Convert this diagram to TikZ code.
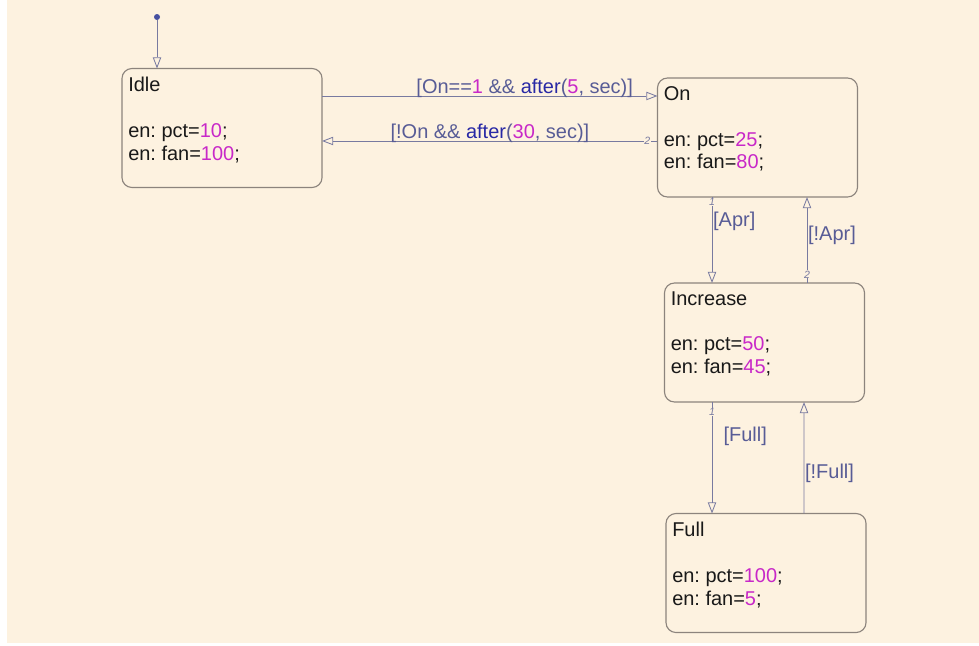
\documentclass[tikz,border=0pt]{standalone}
\usepackage{fontspec}
\setmainfont{Liberation Sans}
\usepackage{xcolor}
\usetikzlibrary{arrows.meta, positioning}
\frenchspacing
\definecolor{chartbg}{RGB}{253,242,224}
\definecolor{stateline}{RGB}{140,132,125}
\definecolor{transline}{RGB}{120,122,160}
\definecolor{guardtxt}{RGB}{88,92,150}
\definecolor{kwtxt}{RGB}{40,40,165}
\definecolor{numtxt}{RGB}{200,40,200}
\definecolor{dotfill}{RGB}{70,80,160}
\newcommand{\stnum}[1]{\textcolor{numtxt}{#1}}
\newcommand{\stkw}[1]{\textcolor{kwtxt}{#1}}
\tikzset{
  statebox/.style={
    rectangle, rounded corners=0.25cm, draw=stateline, line width=0.8pt,
    fill=chartbg, minimum width=5cm, minimum height=2.975cm,
    inner sep=0pt, outer sep=0pt
  },
  statetext/.style={anchor=north west, align=left, inner sep=0pt,
    text=black!90, font=\fontsize{14.2}{16.3}\selectfont},
  trans/.style={draw=transline, line width=0.6pt,
    -{Triangle[open, length=2.8mm, width=2.1mm]}},
  guard/.style={text=guardtxt, inner sep=0.5pt,
    font=\fontsize{14.2}{16.3}\selectfont},
  order/.style={text=transline, fill=chartbg, inner sep=0.3pt,
    font=\fontsize{7.5}{7.5}\selectfont\itshape}
}

\begin{document}
\begin{tikzpicture}[x=0.025cm, y=-0.025cm]
  \useasboundingbox (0,0) rectangle (979,645);
  \fill[chartbg] (7,0) rectangle (979,643);

  % states
  \foreach \n/\x/\y/\lbl/\pc/\fn in {idle/222/128/Idle/10/100,
      on/757.5/137.5/On/25/80, inc/764.5/342.5/Increase/50/45,
      full/766/573/Full/100/5} {
    \node[statebox] (\n) at (\x,\y) {};
    \node[statetext] (\n-txt) at ([shift={(6,8)}]\n.north west)
      {\lbl\\[16.3pt]en: pct=\stnum{\pc};\\en: fan=\stnum{\fn};};
  }

  % default transition
  \node[circle, fill=dotfill, inner sep=0pt, minimum size=0.15cm] (init) at (157,17) {};
  \draw[trans] (init) -- (init |- idle.north);

  % transitions
  \draw[trans] ([shift={(0,27.5)}]idle.north east) -- ([shift={(0,18)}]on.north west)
    node[guard, anchor=south east, pos=0.93, yshift=-0.06cm] (g1)
      {[On==\stnum{1} \&\& \stkw{after}(\stnum{5}, sec)]};
  \draw[trans] ([shift={(0,63)}]on.north west) -- ([shift={(0,72.5)}]idle.north east)
    node[order, pos=0.03] (o1) {2}
    node[guard, anchor=south east, pos=0.2, yshift=-0.08cm] (g2)
      {[!On \&\& \stkw{after}(\stnum{30}, sec)]};
  \draw[trans] ([shift={(-45.5,0)}]on.south) -- ([shift={(-52.5,0)}]inc.north)
    node[order, pos=0.06] (o2) {1}
    node[guard, anchor=north west, pos=0.16] (g3) {[Apr]};
  \draw[trans] ([shift={(42.5,0)}]inc.north) -- ([shift={(49.5,0)}]on.south)
    node[order, pos=0.1] (o3) {2}
    node[guard, anchor=west, pos=0.55] (g4) {[!Apr]};
  \draw[trans] ([shift={(-52.5,0)}]inc.south) -- ([shift={(-54,0)}]full.north)
    node[order, pos=0.09] (o4) {1}
    node[guard, anchor=west, pos=0.31, xshift=0.26cm] (g5) {[Full]};
  \draw[trans] ([shift={(38,0)}]full.north) -- ([shift={(39.5,0)}]inc.south)
    node[guard, anchor=west, pos=0.36] (g6) {[!Full]};
\end{tikzpicture}
\end{document}
